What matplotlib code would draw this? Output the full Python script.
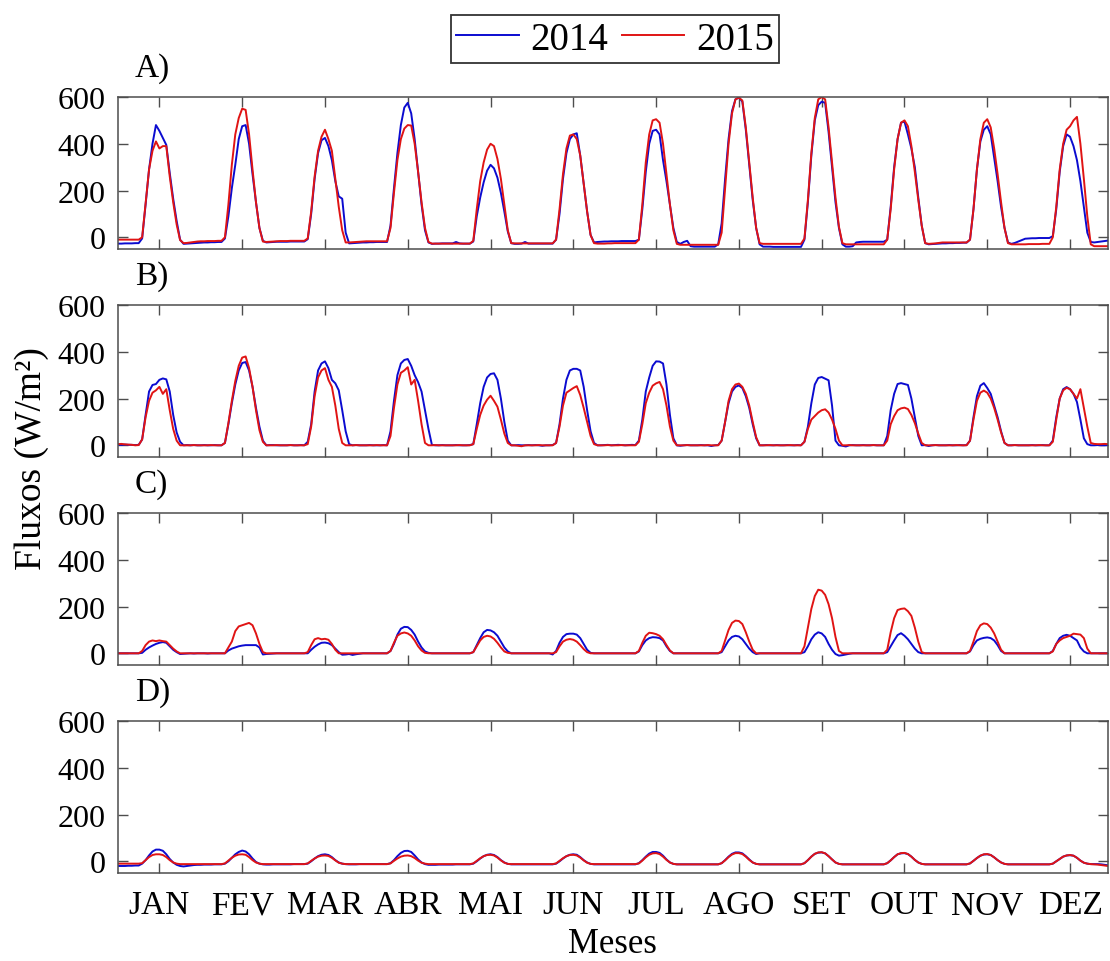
import matplotlib
matplotlib.use('Agg')
import matplotlib.pyplot as plt
import numpy as np

#month labels, one tick per month at midday
meses = ['JAN', 'FEV', 'MAR', 'ABR', 'MAI', 'JUN', 'JUL', 'AGO', 'SET', 'OUT', 'NOV', 'DEZ']

#mean diurnal cycle (hour 0..23) for each month, W/m2
#A) net radiation
rn_2014 = [
	[-27,-27,-26,-26,-26,-25,-25,-5,140,290,400,480,455,425,395,275,165,70,-10,-28,-27,-26,-25,-24],
	[-23,-22,-22,-21,-21,-20,-20,-5,90,210,310,420,475,480,400,270,150,40,-15,-22,-21,-20,-19,-19],
	[-19,-19,-18,-18,-18,-18,-18,-8,100,250,360,415,425,390,330,240,175,165,20,-26,-25,-24,-23,-22],
	[-22,-21,-21,-20,-20,-20,-20,50,210,360,480,555,575,530,420,280,140,30,-22,-28,-27,-27,-26,-26],
	[-26,-26,-20,-26,-27,-27,-27,-18,90,170,235,285,310,295,255,190,110,25,-25,-28,-28,-27,-20,-27],
	[-27,-27,-27,-27,-27,-27,-27,-10,100,250,360,420,440,445,350,230,110,10,-22,-20,-19,-18,-18,-17],
	[-17,-17,-16,-16,-16,-16,-16,-10,120,280,400,455,460,440,330,240,140,40,-20,-28,-20,-15,-38,-40],
	[-40,-40,-40,-40,-40,-40,-30,60,250,420,540,590,598,580,460,310,160,40,-30,-40,-40,-40,-41,-41],
	[-41,-41,-41,-41,-41,-41,-41,-10,150,350,500,565,580,575,450,300,150,40,-30,-40,-40,-38,-22,-20],
	[-19,-19,-19,-19,-19,-19,-19,-10,130,300,420,490,495,440,380,300,170,50,-25,-30,-29,-28,-27,-26],
	[-26,-25,-25,-24,-24,-23,-23,-10,120,290,410,460,475,440,340,240,130,40,-22,-28,-24,-18,-12,-6],
	[-5,-4,-4,-3,-3,-3,-3,5,120,280,390,440,430,390,330,240,130,20,-20,-22,-20,-18,-16,-14]]
rn_2015 = [
	[-10,-10,-10,-10,-10,-10,-10,0,145,290,370,410,380,390,390,260,150,55,-12,-25,-24,-22,-20,-18],
	[-17,-17,-16,-16,-16,-15,-15,0,140,310,440,510,550,545,440,290,150,40,-18,-20,-19,-18,-17,-16],
	[-16,-16,-15,-15,-15,-15,-15,-5,110,260,370,430,460,420,370,250,130,30,-22,-22,-21,-20,-19,-18],
	[-17,-17,-17,-17,-17,-17,-17,40,190,330,420,465,480,478,400,280,150,40,-20,-27,-27,-27,-27,-27],
	[-27,-27,-27,-27,-27,-27,-27,-15,120,240,320,375,400,390,335,250,140,30,-25,-26,-26,-26,-26,-26],
	[-26,-26,-26,-26,-26,-26,-26,-10,120,270,380,435,440,420,350,230,110,10,-25,-27,-27,-27,-26,-26],
	[-25,-25,-25,-25,-25,-25,-25,-10,140,320,440,500,505,490,400,270,140,30,-28,-32,-32,-32,-32,-32],
	[-32,-32,-32,-32,-32,-32,-32,20,210,400,530,590,597,585,470,320,170,40,-25,-28,-28,-28,-28,-28],
	[-28,-28,-28,-28,-28,-28,-28,-5,160,360,510,590,600,590,470,320,170,45,-25,-30,-30,-30,-30,-30],
	[-30,-30,-30,-30,-30,-30,-30,-10,120,290,420,490,500,475,390,280,160,50,-25,-28,-27,-26,-24,-22],
	[-22,-22,-22,-22,-22,-22,-22,-10,120,290,420,490,505,470,380,270,150,40,-25,-30,-30,-30,-30,-30],
	[-29,-29,-29,-29,-28,-28,-28,0,130,290,400,460,475,500,515,400,250,90,-30,-38,-38,-38,-38,-38]]

#B) latent heat
le_2014 = [
	[3,2,3,2,2,1,2,25,130,230,258,262,280,286,282,230,130,55,15,0,1,0,1,0],
	[0,1,0,0,1,0,0,10,90,180,260,320,352,356,320,250,160,80,20,0,1,1,0,0],
	[0,0,1,0,0,1,0,15,90,230,320,350,359,330,280,265,235,150,60,5,0,1,0,0],
	[0,1,0,0,0,1,0,60,190,300,350,365,369,340,300,270,230,150,70,2,0,0,1,0],
	[0,0,1,0,0,0,1,5,90,180,250,290,305,308,280,200,100,20,0,0,1,0,0,1],
	[0,1,0,-2,0,0,1,10,90,200,280,320,327,327,320,250,150,60,10,0,0,1,2,0],
	[1,2,1,0,1,2,1,20,110,230,290,340,359,358,350,260,130,30,0,-2,0,1,0,0],
	[0,1,0,0,-3,0,1,20,100,180,230,250,256,245,210,160,90,30,0,0,1,0,0,1],
	[0,0,1,0,0,1,0,15,80,180,260,288,292,285,278,170,20,0,-2,-5,0,1,0,0],
	[1,0,0,1,0,0,0,40,150,220,262,266,262,258,200,120,40,0,1,-3,0,1,0,0],
	[0,1,0,0,1,0,1,20,120,210,255,266,245,220,170,120,60,10,0,0,1,0,0,0],
	[0,1,0,0,1,0,0,20,120,200,240,249,240,220,185,110,30,5,0,0,1,0,0,1]]
le_2015 = [
	[5,6,4,3,2,0,1,25,120,190,225,235,250,220,240,150,70,20,0,0,0,0,1,0],
	[0,0,0,1,0,0,0,10,95,190,275,340,375,380,330,250,150,65,15,0,0,0,1,0],
	[0,0,1,0,0,0,0,5,80,210,290,320,330,280,250,170,70,10,0,0,0,1,0,0],
	[0,0,0,1,0,0,0,40,160,260,310,320,334,260,280,190,90,10,0,0,1,0,0,0],
	[0,0,0,1,0,0,0,5,70,130,170,195,212,190,165,110,50,10,0,0,-2,-4,0,0],
	[0,0,1,0,0,0,0,10,80,170,225,235,245,253,215,160,100,40,5,0,0,0,1,0],
	[0,0,1,0,0,0,0,15,90,180,225,255,265,271,240,170,80,20,0,0,0,1,0,0],
	[0,0,0,1,0,0,0,20,100,190,240,260,264,250,220,170,100,35,0,0,0,1,0,0],
	[0,0,0,1,0,0,0,15,70,110,125,140,150,154,140,110,70,20,0,0,1,0,0,0],
	[0,0,0,1,0,0,0,20,90,125,150,158,161,155,130,95,50,10,0,0,0,1,0,0],
	[0,0,0,1,0,0,0,20,110,190,225,234,225,200,160,110,55,10,0,0,1,0,0,0],
	[0,0,0,1,0,0,0,15,110,200,235,246,240,220,200,240,160,80,10,6,5,5,6,5]]

#C) sensible heat
h_2014 = [
	[0,0,0,0,0,0,0,2,15,25,33,40,45,48,45,30,15,5,-3,-2,-1,0,-1,0],
	[0,0,-1,0,0,0,0,0,12,20,25,30,33,35,35,35,35,25,-5,-3,-2,-1,0,0],
	[0,0,0,0,0,0,0,0,15,28,38,45,46,43,35,20,5,-6,-5,-3,-7,-4,-2,0],
	[0,0,0,0,0,0,0,10,40,80,105,113,112,100,80,50,25,8,2,0,0,0,0,0],
	[0,0,0,0,0,0,0,5,35,65,90,100,98,90,75,50,25,8,0,0,0,0,0,0],
	[0,0,0,0,0,0,-5,10,45,70,82,84,84,80,65,40,15,2,0,0,0,0,0,0],
	[0,0,0,0,0,0,0,8,35,55,65,69,68,65,55,30,10,0,0,0,0,0,0,0],
	[0,0,0,0,0,0,0,5,30,55,70,75,72,60,40,20,5,-3,0,0,0,0,0,0],
	[0,0,0,0,0,0,0,5,30,60,80,90,85,70,40,15,-3,-10,-8,-5,-2,0,0,0],
	[0,0,0,0,0,0,0,5,30,55,78,86,75,60,40,20,5,0,0,0,0,0,0,0],
	[0,0,0,0,0,0,0,8,35,55,62,66,68,65,55,35,10,0,0,0,0,0,0,0],
	[0,0,0,0,0,0,0,10,40,65,75,79,75,65,55,25,8,0,0,0,0,0,0,0]]
h_2015 = [
	[0,0,0,0,0,0,0,10,35,50,55,52,55,52,50,35,20,8,0,0,0,0,0,0],
	[0,0,0,0,0,0,0,0,25,50,95,115,120,125,130,120,85,40,5,0,0,0,0,0],
	[0,0,0,0,0,0,0,5,35,60,65,60,62,58,40,15,0,0,0,0,0,0,0,0],
	[0,0,0,0,0,0,0,10,45,75,85,89,85,75,55,30,12,2,0,0,0,0,0,0],
	[0,0,0,0,0,0,0,5,30,55,70,75,72,62,45,25,8,2,0,0,0,0,0,0],
	[0,0,0,0,0,0,0,5,30,50,58,61,58,50,35,18,5,0,0,0,0,0,0,0],
	[0,0,0,0,0,0,0,10,45,75,88,86,82,75,60,35,12,0,0,0,0,0,0,0],
	[0,0,0,0,0,0,0,10,55,100,130,140,138,125,90,50,15,0,0,0,0,0,0,0],
	[0,0,0,0,0,0,0,30,110,190,245,272,268,250,210,150,70,10,0,0,0,0,0,0],
	[0,0,0,0,0,0,0,15,90,150,185,190,192,180,160,110,50,5,0,0,0,0,0,0],
	[0,0,0,0,0,0,0,10,50,95,120,128,125,110,85,50,15,0,0,0,0,0,0,0],
	[0,0,0,0,0,0,0,8,40,55,65,70,75,84,82,80,65,20,0,0,0,0,0,0]]

#D) ground heat
g_2014 = [
	[-20,-20,-20,-19,-19,-18,-18,-10,5,25,42,50,50,45,30,10,-5,-15,-20,-22,-20,-18,-16,-15],
	[-15,-14,-14,-14,-13,-13,-13,-10,0,15,30,40,46,42,30,12,-3,-10,-13,-14,-14,-13,-13,-13],
	[-13,-13,-13,-12,-12,-12,-12,-10,0,12,22,28,30,27,18,5,-5,-10,-12,-13,-13,-13,-12,-12],
	[-12,-12,-12,-12,-12,-12,-12,-8,5,22,36,44,45,40,25,8,-5,-12,-15,-15,-15,-14,-14,-14],
	[-14,-14,-13,-13,-13,-13,-13,-10,0,12,22,28,30,27,18,5,-5,-11,-13,-13,-13,-13,-13,-13],
	[-13,-13,-13,-13,-13,-13,-13,-10,0,12,22,28,30,28,18,5,-5,-11,-13,-13,-13,-13,-13,-13],
	[-13,-13,-13,-13,-13,-13,-13,-8,5,20,33,40,40,36,24,8,-5,-11,-13,-13,-13,-13,-13,-13],
	[-13,-13,-13,-13,-13,-13,-13,-8,5,20,32,38,38,34,22,8,-5,-11,-13,-13,-13,-13,-13,-13],
	[-13,-13,-13,-13,-13,-13,-13,-8,5,20,32,37,38,34,22,8,-5,-11,-13,-13,-13,-13,-13,-13],
	[-13,-13,-13,-13,-13,-13,-13,-8,4,18,30,34,35,31,20,6,-5,-11,-13,-13,-13,-13,-13,-13],
	[-13,-13,-13,-13,-13,-13,-13,-9,2,14,24,29,30,27,17,5,-5,-11,-13,-13,-13,-13,-13,-13],
	[-13,-13,-13,-13,-13,-13,-13,-10,0,10,20,25,26,24,15,3,-6,-10,-12,-12,-12,-13,-15,-17]]
g_2015 = [
	[-10,-10,-10,-10,-10,-10,-10,-8,5,18,27,30,30,27,18,5,-5,-10,-12,-12,-12,-12,-12,-12],
	[-12,-12,-12,-12,-12,-12,-12,-9,3,15,24,29,30,28,18,5,-5,-10,-12,-12,-12,-12,-12,-12],
	[-12,-12,-12,-12,-12,-12,-12,-9,2,12,20,24,25,23,15,4,-6,-10,-12,-12,-12,-12,-12,-12],
	[-12,-12,-12,-12,-12,-12,-12,-9,2,12,20,24,25,22,14,3,-6,-10,-12,-12,-12,-12,-12,-12],
	[-12,-12,-12,-12,-12,-12,-12,-9,2,13,22,27,28,25,16,4,-6,-11,-12,-12,-12,-12,-12,-12],
	[-12,-12,-12,-12,-12,-12,-12,-9,2,13,22,27,28,25,16,4,-6,-11,-12,-12,-12,-12,-12,-12],
	[-12,-12,-12,-12,-12,-12,-12,-9,3,17,28,34,35,31,20,6,-5,-11,-13,-13,-13,-13,-13,-13],
	[-13,-13,-13,-13,-13,-13,-13,-8,4,18,29,35,35,31,20,6,-5,-11,-13,-13,-13,-13,-13,-13],
	[-13,-13,-13,-13,-13,-13,-13,-8,5,20,32,38,39,34,22,8,-5,-11,-13,-13,-13,-13,-13,-13],
	[-13,-13,-13,-13,-13,-13,-13,-8,4,18,30,35,36,31,20,6,-5,-11,-13,-13,-13,-13,-13,-13],
	[-13,-13,-13,-13,-13,-13,-13,-9,2,14,24,30,31,27,17,5,-5,-11,-13,-13,-13,-13,-13,-13],
	[-13,-13,-13,-13,-13,-13,-13,-10,0,10,20,25,27,24,15,3,-6,-10,-12,-13,-14,-16,-18,-20]]

plt.rcParams['font.family'] = ['Liberation Serif', 'DejaVu Serif']
blue = '#0b0bd0'
red = '#e01414'
edge = '#4d4d4d'

fig = plt.figure(figsize=(11.1, 9.62), dpi=100)
W, H = 1110.0, 962.0
hours = np.arange(24*len(meses))
panels = [(rn_2014, rn_2015, 'A)'), (le_2014, le_2015, 'B)'),
	(h_2014, h_2015, 'C)'), (g_2014, g_2015, 'D)')]

for i, (s14, s15, lab) in enumerate(panels):
	bottom_px = 250 + 208*i #pixel row of the lower frame edge
	ax = fig.add_axes([118/W, 1 - bottom_px/H, 990/W, 152/H])
	l1, = ax.plot(hours, np.concatenate(s14), color=blue, linewidth=1.4, label='2014')
	l2, = ax.plot(hours, np.concatenate(s15), color=red, linewidth=1.4, label='2015')
	ax.set_xlim(0, hours[-1])
	ax.set_ylim(-50, 600)
	ax.set_yticks([0, 200, 400, 600])
	ax.set_xticks(np.arange(12, 24*len(meses), 24))
	if i == 3:
		ax.set_xticklabels(meses)
	else:
		ax.set_xticklabels([])
	ax.tick_params(direction='in', top=True, right=True, length=7, width=1.0, color=edge)
	ax.tick_params(axis='y', labelsize=23, pad=9)
	ax.tick_params(axis='x', labelsize=24, pad=12)
	for sp in ax.spines.values():
		sp.set_color(edge)
		sp.set_linewidth(1.1)
	ax.text(0.017, 1 + 21/152.0, lab, transform=ax.transAxes, fontsize=24, va='baseline', ha='left')

fig.text(612/W, 1 - 945/H, 'Meses', fontsize=25, ha='center', va='center')
fig.text(32/W, 1 - 459/H, 'Fluxos (W/m²)', rotation=90, fontsize=27, ha='center', va='center')

leg = fig.legend([l1, l2], ['2014', '2015'], loc='center', bbox_to_anchor=(615/W, 1 - 40/H),
	ncol=2, fontsize=28, frameon=True, fancybox=False, handlelength=1.6,
	handletextpad=0.3, columnspacing=0.35, borderpad=0.15, borderaxespad=0)
leg.get_frame().set_edgecolor('black')
leg.get_frame().set_linewidth(1.3)

fig.savefig('out.png', dpi=100)
